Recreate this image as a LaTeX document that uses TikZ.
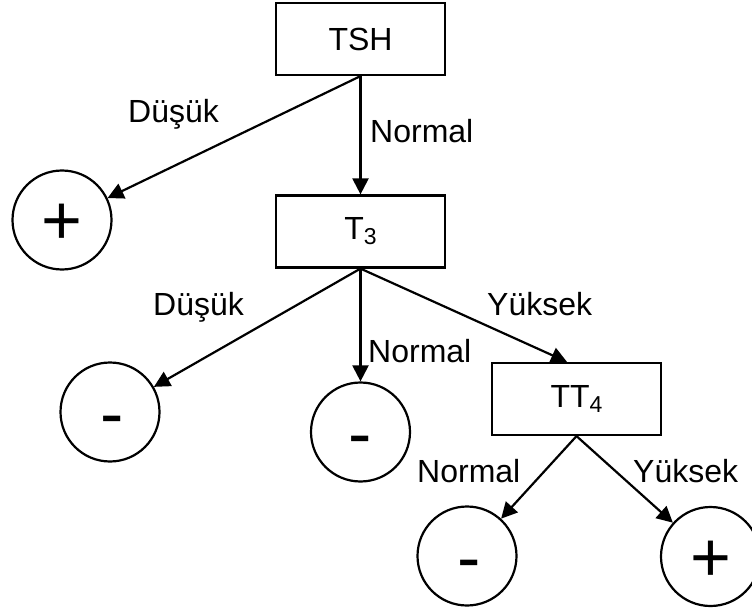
\documentclass[tikz,border=0pt]{standalone}
\usepackage{fontspec}
\setmainfont{Liberation Sans}
\usetikzlibrary{arrows.meta}
% lowered, smaller index digit
\newcommand{\idx}[1]{\raisebox{-5pt}{\fontsize{23}{23}\selectfont #1}}
% large class sign inside a leaf circle
\newcommand{\signsym}[1]{\raisebox{-25pt}[0pt][0pt]{\fontsize{70}{70}\selectfont #1}}
\begin{document}
\begin{tikzpicture}[x=1pt,y=-1pt,
  font=\fontsize{32}{38}\selectfont,
  box/.style={draw, line width=2.2pt, minimum width=169pt, minimum height=72pt, inner sep=0pt},
  leaf/.style={draw, circle, line width=2.2pt, minimum size=99pt, inner sep=0pt,
               text height=0pt, text depth=0pt},
  edge/.style={line width=2.2pt, -{Triangle[length=16pt,width=16pt]}},
  lab/.style={anchor=base west, inner sep=0pt}]
\useasboundingbox (0,0) rectangle (752,612);

% decision nodes
\node[box] (tsh) at (360.5,39) {TSH};
\node[box] (t3)  at (360.5,231.5) {T\idx{3}};
\node[box] (tt4) at (576.5,399) {TT\idx{4}};

% leaves
\node[leaf] (p1) at (62,220)      {\signsym{+}};
\node[leaf] (m1) at (110,412)     {\kern4pt\signsym{-}};
\node[leaf] (m2) at (360.5,432)   {\signsym{-}};
\node[leaf] (m3) at (467,556)     {\kern4pt\signsym{-}};
\node[leaf] (p2) at (710.5,556.5) {\signsym{+}};

% branches
\draw[edge] (tsh.south) -- (p1);
\draw[edge] (tsh.south) -- (t3.north);
\draw[edge] (t3.south) -- (m1);
\draw[edge] (t3.south) -- (m2);
\draw[edge] (t3.south) -- ([xshift=-9.5pt]tt4.north);
\draw[edge] (tt4.south) -- (m3);
\draw[edge] (tt4.south) -- (p2);

% branch labels
\node[lab] (l1) at (128,123) {Düşük};
\node[lab] (l2) at (370,143) {Normal};
\node[lab] (l3) at (153,315) {Düşük};
\node[lab] (l4) at (368,362) {Normal};
\node[lab] (l5) at (487,315) {Yüksek};
\node[lab] (l6) at (417,482) {Normal};
\node[lab] (l7) at (633,482) {Yüksek};
\end{tikzpicture}
\end{document}
